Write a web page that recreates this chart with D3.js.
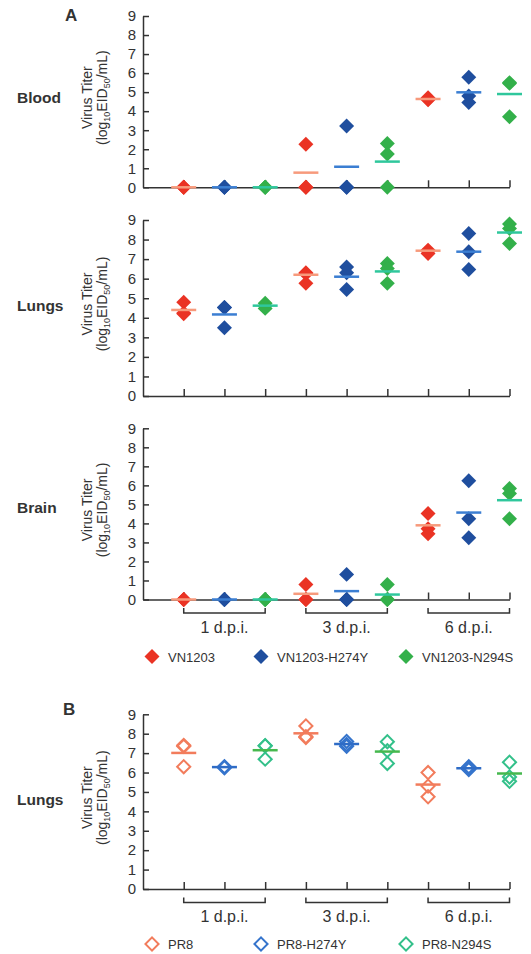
<!DOCTYPE html>
<html>
<head>
<meta charset="utf-8">
<script src="https://cdn.jsdelivr.net/npm/d3@7"></script>
<style>
  body { margin: 0; background: #fff; }
  text { font-family: "Liberation Sans", Arial, sans-serif; fill: #333; }
</style>
</head>
<body>
<div id="chart"></div>
<script>
"use strict";
// days post infection, strains
const days = ['1 d.p.i.', '3 d.p.i.', '6 d.p.i.'];
const strainsA = ['VN1203', 'VN1203-H274Y', 'VN1203-N294S'];
const strainsB = ['PR8', 'PR8-H274Y', 'PR8-N294S'];

// titers per column (day x strain), 3 mice each, log10 EID50/mL
const bloodTiters = [[0,0,0],[0,0,0],[0,0,0],
  [2.26,0,0],[3.22,0,0],[2.3,1.75,0],
  [4.7,4.62,4.6],[5.78,4.8,4.45],[5.46,5.5,3.71]];
const bloodMeans = [0,0,0, 0.77,1.08,1.35, 4.64,4.99,4.9];

const lungsTiters = [[4.8,4.25,4.2],[4.52,4.52,3.49],[4.74,4.6,4.48],
  [6.3,6.25,5.76],[6.6,6.3,5.45],[6.78,6.52,5.76],
  [7.46,7.4,7.29],[8.31,7.38,6.47],[8.79,8.57,7.8]];
const lungsMeans = [4.4,4.17,4.62, 6.2,6.1,6.37, 7.43,7.38,8.36];

const brainTiters = [[0,0,0],[0,0,0],[0,0,0],
  [0.79,0,0],[1.32,0,0],[0.79,0,0],
  [4.52,3.72,3.46],[6.24,4.25,3.25],[5.83,5.57,4.25]];
const brainMeans = [0,0,0, 0.3,0.44,0.26, 3.9,4.57,5.22];

const pr8Titers = [[7.4,7.35,6.3],[6.3,6.28,6.25],[7.38,7.38,6.69],
  [8.4,7.85,7.8],[7.6,7.45,7.35],[7.59,7.13,6.47],
  [6.0,5.3,4.75],[6.3,6.2,6.15],[6.53,5.77,5.55]];
const pr8Means = [7.01,6.28,7.15, 8.02,7.47,7.08, 5.38,6.22,5.95];

const yTicks = [0,1,2,3,4,5,6,7,8,9];

(function(){
  let m = { width: 531, height: 954 }
  const colorsA = ['#ea3324', '#1f4e9e', '#33b04a']
  const meanColorsA = ['#f79a7c', '#3b7ed2', '#2fc79c']
  const colorsB = ['#f27c5c', '#3574cc', '#33c08a']
  const meanColorsB = ['#f27c5c', '#2f6cc6', '#46b84e']

  const svg = d3.select('#chart').append('svg')
      .attr('width', m.width)
      .attr('height', m.height)

  const x = d3.scaleLinear()
      .domain([0, 9])
      .range([143, 509.5])

  const panels = [
    { organ: 'Blood', titers: bloodTiters, means: bloodMeans, top: 16, bottom: 187.3, labelY: 103, hollow: false },
    { organ: 'Lungs', titers: lungsTiters, means: lungsMeans, top: 220, bottom: 396, labelY: 311, hollow: false },
    { organ: 'Brain', titers: brainTiters, means: brainMeans, top: 428.3, bottom: 599.5, labelY: 513, hollow: false,
      brackets: true, legend: strainsA, legendY: 656.5 },
    { organ: 'Lungs', titers: pr8Titers, means: pr8Means, top: 714.3, bottom: 889, labelY: 805, hollow: true,
      brackets: true, legend: strainsB, legendY: 944 }
  ]

  svg.append('text').attr('x', 65).attr('y', 21)
    .attr('font-size', '17px').attr('font-weight', 'bold').text('A')
  svg.append('text').attr('x', 63).attr('y', 715)
    .attr('font-size', '17px').attr('font-weight', 'bold').text('B')

  panels.forEach(drawPanel)

  function diamond(size) {
    return d3.symbol(d3.symbolSquare).size(size)()
  }

  function drawPanel(p) {
    let y = d3.scaleLinear().domain([0, 9]).range([p.bottom, p.top])
    let g = svg.append('g')
    let colors = p.hollow ? colorsB : colorsA
    let meanColors = p.hollow ? meanColorsB : meanColorsA

    // organ label
    g.append('text')
      .attr('x', 17).attr('y', p.labelY)
      .attr('font-size', '15.5px').attr('font-weight', 'bold')
      .text(p.organ)

    // y title
    let yc = (p.top + p.bottom) / 2 - 4
    g.append('text')
      .attr('transform', 'translate(92,' + yc + ')rotate(-90)')
      .attr('text-anchor', 'middle')
      .attr('font-size', '14px')
      .text('Virus Titer')
    let t2 = g.append('text')
      .attr('transform', 'translate(107,' + yc + ')rotate(-90)')
      .attr('text-anchor', 'middle')
      .attr('font-size', '14px')
    t2.append('tspan').text('(log')
    t2.append('tspan').attr('font-size', '9px').attr('dy', 3).text('10')
    t2.append('tspan').attr('dy', -3).text('EID')
    t2.append('tspan').attr('font-size', '9px').attr('dy', 3).text('50')
    t2.append('tspan').attr('dy', -3).text('/mL)')

    // axes
    let yAxis = g.append('g')
      .attr('transform', 'translate(' + x(0) + ',0)')
      .call(d3.axisLeft(y).tickValues(yTicks).tickSize(-6).tickSizeOuter(0).tickPadding(7))
    let xAxis = g.append('g')
      .attr('transform', 'translate(0,' + p.bottom + ')')
      .call(d3.axisTop(x).tickValues(d3.range(1, 10)).tickSize(7).tickSizeOuter(0).tickFormat(''))
    g.selectAll('.tick line, .domain')
      .attr('stroke', '#333')
      .attr('stroke-width', 1.5)
    yAxis.selectAll('text')
      .attr('font-size', '15px')
      .attr('fill', '#333')
      .attr('font-family', '"Liberation Sans", Arial, sans-serif')

    // points
    p.titers.forEach(function(vals, c) {
      g.selectAll('.pt' + c)
        .data(vals)
        .enter()
        .append('path')
          .attr('d', p.hollow ? diamond(86) : diamond(112))
          .attr('transform', d => 'translate(' + x(c + 1) + ',' + y(d) + ')rotate(45)')
          .attr('fill', p.hollow ? 'none' : colors[c % 3])
          .attr('stroke', p.hollow ? colors[c % 3] : 'none')
          .attr('stroke-width', 2)
    })

    // means
    g.selectAll('.mean')
      .data(p.means)
      .enter()
      .append('line')
        .attr('x1', (d, c) => x(c + 1) - 12.5)
        .attr('x2', (d, c) => x(c + 1) + 12.5)
        .attr('y1', d => y(d))
        .attr('y2', d => y(d))
        .attr('stroke', (d, c) => meanColors[c % 3])
        .attr('stroke-width', 2.5)

    if (p.brackets) {
      let b = p.bottom + 13.5
      days.forEach(function(day, i) {
        let x1 = x(3 * i + 1), x2 = x(3 * i + 3)
        g.append('path')
          .attr('d', 'M' + x1 + ',' + (b - 5) + 'V' + b + 'H' + x2 + 'V' + (b - 5))
          .attr('fill', 'none')
          .attr('stroke', '#333')
          .attr('stroke-width', 1.5)
        g.append('text')
          .attr('x', (x1 + x2) / 2)
          .attr('y', p.bottom + 33)
          .attr('text-anchor', 'middle')
          .attr('font-size', '16px')
          .text(day)
      })
    }

    if (p.legend) {
      let lx = [152, 261, 406]
      p.legend.forEach(function(name, i) {
        g.append('path')
          .attr('d', p.hollow ? diamond(86) : diamond(112))
          .attr('transform', 'translate(' + lx[i] + ',' + p.legendY + ')rotate(45)')
          .attr('fill', p.hollow ? 'none' : colors[i])
          .attr('stroke', p.hollow ? colors[i] : 'none')
          .attr('stroke-width', 2)
        g.append('text')
          .attr('x', lx[i] + 16)
          .attr('y', p.legendY + 5)
          .attr('font-size', '13px')
          .text(name)
      })
    }
  }
})();
</script>
</body>
</html>
